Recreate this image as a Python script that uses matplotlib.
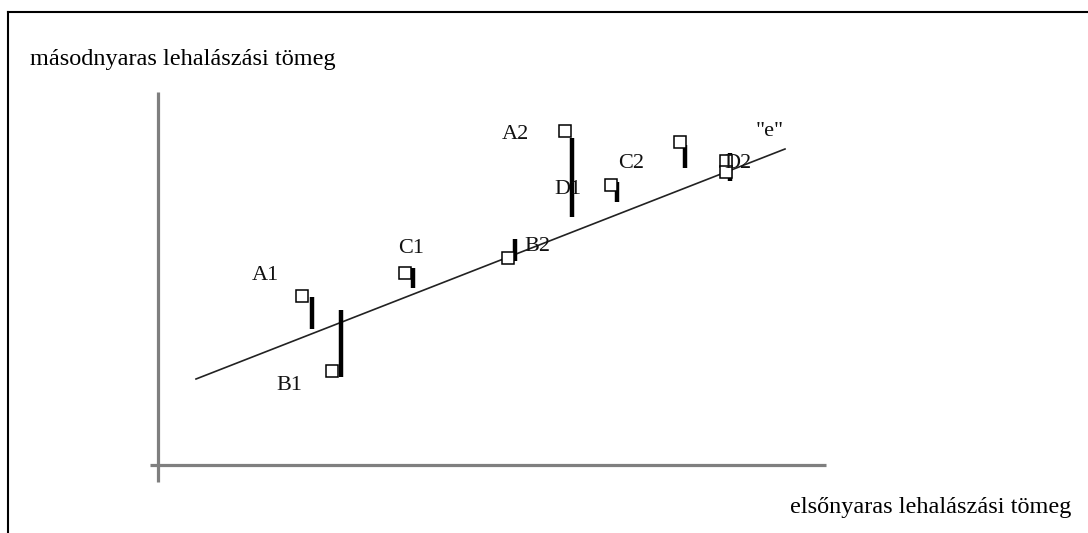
import matplotlib
matplotlib.use("Agg")
import matplotlib.pyplot as plt
from matplotlib.lines import Line2D

# ---- data (arbitrary units, origin at the axis crossing) ----
fit_x = [3.8, 62.7]
fit_y = [8.6, 31.6]

# observed points (squares)
obs_x = [14.35, 17.4, 24.65, 34.95, 40.7, 45.25, 52.15, 56.8, 56.8]
obs_y = [16.9, 9.4, 19.25, 20.75, 33.35, 28.0, 32.25, 30.4, 29.25]

# residual bars
bar_x = [15.4, 18.3, 25.5, 35.7, 41.35, 45.85, 52.7, 57.2]
bar_lo = [13.6, 8.8, 17.7, 20.4, 24.8, 26.3, 29.7, 28.4]
bar_hi = [16.83, 15.5, 19.73, 22.6, 32.7, 28.3, 32.0, 31.2]

# point labels
lab_text = ["A1", "B1", "C1", "B2", "A2", "D1", "C2", "D2", '"e"']
lab_x = [10.7, 13.15, 25.3, 37.9, 35.7, 41.0, 47.3, 58.0, 61.2]
lab_y = [18.9, 7.9, 21.6, 21.8, 33.0, 27.5, 30.1, 30.1, 33.3]

W, H = 1088, 533
fig = plt.figure(figsize=(W / 100, H / 100), dpi=100)
ax = fig.add_axes([0, 0, 1, 1])
ax.set_xlim(-15.8, 93.0)
ax.set_ylim(-6.8, 46.5)
ax.axis("off")

# outer frame (top and left edges only)
fig.add_artist(Line2D([8 / W, 1], [1 - 12 / H, 1 - 12 / H], color="black", lw=1.5))
fig.add_artist(Line2D([8 / W, 8 / W], [0, 1 - 12 / H], color="black", lw=1.5))

# coordinate axes
gray = "#7f7f7f"
ax.plot([0, 0], [-1.7, 37.3], color=gray, lw=2.3, solid_capstyle="butt")
ax.plot([-0.8, 66.8], [0, 0], color=gray, lw=2.3, solid_capstyle="butt")

# regression line "e"
ax.plot(fit_x, fit_y, color="#222222", lw=1.2)

# residuals
ax.vlines(bar_x, bar_lo, bar_hi, color="black", lw=3.2)

# observations
ax.plot(obs_x, obs_y, "s", ms=8, mfc="white", mec="black", mew=1.1, ls="none")

for t, x, y in zip(lab_text, lab_x, lab_y):
    ax.text(x, y, t, family="Liberation Serif", fontsize=16,
            ha="center", va="center", color="#111111")

fig.text(30 / W, 1 - 60 / H, "másodnyaras lehalászási tömeg",
         family="Liberation Serif", fontsize=17.5, ha="left", va="center")
fig.text(790 / W, 1 - 508 / H, "elsőnyaras lehalászási tömeg",
         family="Liberation Serif", fontsize=17.5, ha="left", va="center")

fig.savefig("out.png", dpi=100, facecolor="white")
